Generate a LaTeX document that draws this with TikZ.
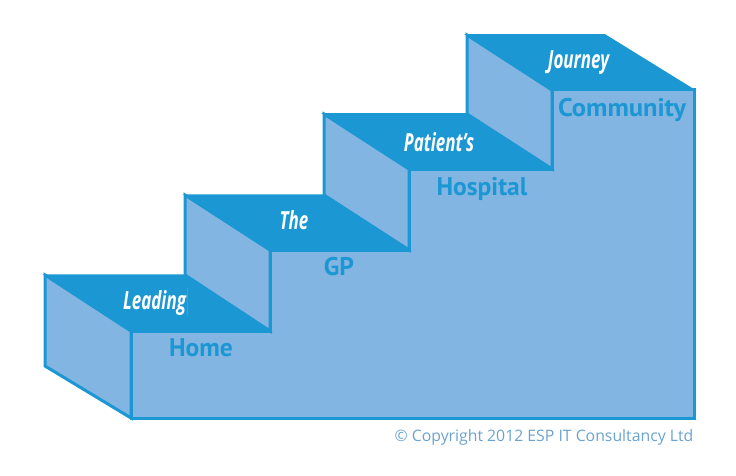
\documentclass[tikz,border=0pt]{standalone}
\usepackage{fontspec}
\setmainfont{PT Sans}
\newfontfamily\stairfont{PT Sans}
\newfontfamily\walkfont{Open Sans}
\newfontfamily\copyfont{Open Sans}
\definecolor{edgeblue}{HTML}{1B97D3}
\definecolor{faceblue}{HTML}{82B5E1}
\definecolor{copyblue}{HTML}{6BA3CE}
\definecolor{caretred}{HTML}{C8705A}
\tikzset{
  face/.style={fill=faceblue,draw=edgeblue,line width=3pt,line join=miter},
  tread/.style={fill=edgeblue,draw=edgeblue,line width=1.5pt,line join=miter},
  walk/.style={text=white,font=\walkfont\bfseries\itshape\fontsize{25}{27}\selectfont,xscale=0.68,inner sep=0pt},
  place/.style={text=edgeblue,font=\stairfont\bfseries\fontsize{25.5}{28}\selectfont,inner sep=0pt},
  copyr/.style={text=copyblue,font=\copyfont\fontsize{15.8}{18}\selectfont,inner sep=0pt,anchor=east}
}
\begin{document}
\begin{tikzpicture}[x=1pt,y=-1pt]
\useasboundingbox (0,0) rectangle (736,476);
% body
\draw[face] (131,331) -- (270,331) -- (270,250) -- (409,250) -- (409,169) -- (552,169) -- (552,90) -- (694,90) -- (694,418) -- (131,418) -- cycle;
% end and risers
\draw[face] (45,275) -- (131,331) -- (131,418) -- (45,366) -- cycle;
\draw[face] (185,195) -- (270,250) -- (270,331) -- (185,275) -- cycle;
\draw[face] (324,114) -- (409,169) -- (409,250) -- (324,195) -- cycle;
\draw[face] (467,35) -- (552,90) -- (552,169) -- (467,114) -- cycle;
% treads
\draw[tread] (45,275) -- (185,275) -- (270,331) -- (131,331) -- cycle;
\draw[tread] (185,195) -- (324,195) -- (409,250) -- (270,250) -- cycle;
\draw[tread] (324,114) -- (467,114) -- (552,169) -- (409,169) -- cycle;
\draw[tread] (467,35) -- (605,35) -- (694,90) -- (552,90) -- cycle;
% labels
\node[walk] (w1) at (154.5,303) {Leading};
\node[walk] (w2) at (294,220) {The};
\node[walk] (w3) at (439,142) {Patient’s};
\node[walk] (w4) at (578.5,63) {Journey};
\draw[caretred,line width=0.7pt] (187,288) -- (187,316);
\node[place] (p1) at (201,347.5) {Home};
\node[place] (p2) at (339,267) {GP};
\node[place] (p3) at (482,189) {Hospital};
\node[place,xscale=1.04] (p4) at (622,110) {Community};
\node[copyr] (c) at (693.5,437) {© Copyright 2012 ESP IT Consultancy Ltd};
\end{tikzpicture}
\end{document}
